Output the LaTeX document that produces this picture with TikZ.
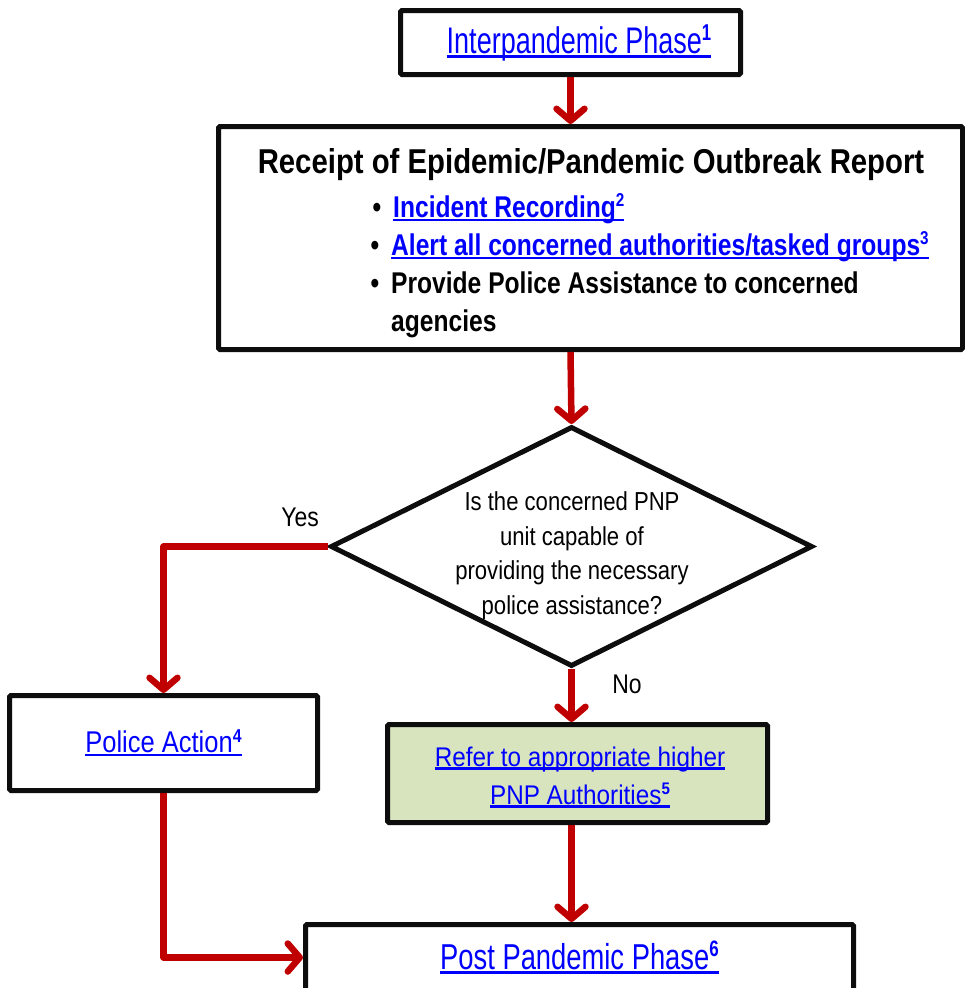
\documentclass[tikz,border=0pt]{standalone}
\usepackage{fontspec}
\setmainfont{Liberation Sans}[FakeStretch=0.78]
% condensed cuts of the same face, one per text group
\newfontfamily\fnarrowA{Liberation Sans}[FakeStretch=0.73]
\newfontfamily\fnarrowB{Liberation Sans}[FakeStretch=0.76]
\newfontfamily\fmidA{Liberation Sans}[FakeStretch=0.82]
\newfontfamily\fmidB{Liberation Sans}[FakeStretch=0.85]
\newfontfamily\fwide{Liberation Sans}[FakeStretch=0.90]
\usepackage{graphicx}
\usetikzlibrary{arrows.meta,shapes.geometric}

\definecolor{flowred}{HTML}{C00000}
\definecolor{linkblue}{HTML}{0000FF}
\definecolor{referfill}{HTML}{D7E4BD}
\definecolor{edgeblack}{HTML}{0D0D0D}

% underlined hyperlink-style text
\newsavebox\lnkbox
\newcommand\lnk[1]{\sbox\lnkbox{#1}\rlap{\color{linkblue}\rule[-0.13em]{\wd\lnkbox}{0.08em}}\usebox\lnkbox}
% footnote-style reference number
\newcommand\supnum[1]{\raisebox{0.34em}{\scalebox{0.62}{\bfseries #1}}}

\tikzset{
  box/.style={draw=edgeblack, line width=5pt, rounded corners=1.5pt, fill=white,
              inner sep=0pt, align=center},
  decision/.style={diamond, draw=edgeblack, line width=5pt, fill=white, inner sep=0pt,
              minimum width=482pt, minimum height=240pt},
  flow/.style={draw=flowred, line width=6.5pt, line join=round,
              -{Straight Barb[length=12pt,width=28pt,round]}},
  linktext/.style={text=linkblue},
  plain/.style={text=black, inner sep=0pt},
}

\begin{document}
\begin{tikzpicture}[x=1pt,y=-1pt]
\useasboundingbox (0,0) rectangle (965,988);

% boxes
\node[box, minimum width=340pt, minimum height=64pt] (inter) at (570.5,42.5) {};
\node[plain, linktext, font={\fnarrowA\fontsize{37}{40}\selectfont}] (intertext) at (579,43)
      {\lnk{Interpandemic Phase\supnum{1}}};

\node[box, minimum width=744pt, minimum height=223pt] (report) at (590.5,238) {};
\node[plain, anchor=base, font={\fmidB\bfseries\fontsize{34.5}{40}\selectfont}] (title) at (591,173)
      {Receipt of Epidemic/Pandemic Outbreak Report};
\node[plain, anchor=base west, linktext, font={\fmidA\bfseries\fontsize{30}{38}\selectfont}] (item1) at (393,217)
      {\llap{\color{black}\textbullet\hspace{12pt}}\lnk{Incident Recording\supnum{2}}};
\node[plain, anchor=base west, linktext, font={\fmidA\bfseries\fontsize{30}{38}\selectfont}] (item2) at (391,255)
      {\llap{\color{black}\textbullet\hspace{12pt}}\lnk{Alert all concerned authorities/tasked groups\supnum{3}}};
\node[plain, anchor=base west, font={\fmidA\bfseries\fontsize{30}{38}\selectfont}] (item3) at (391,293)
      {\llap{\textbullet\hspace{12pt}}Provide Police Assistance to concerned};
\node[plain, anchor=base west, font={\fmidA\bfseries\fontsize{30}{38}\selectfont}] (item3b) at (391,331)
      {agencies};

\node[decision] (dec) at (571.5,546.5) {};
\node[plain, align=center, font={\fmidB\fontsize{26}{34.5}\selectfont}] (question) at (572,556)
      {Is the concerned PNP\\unit capable of\\providing the necessary\\police assistance?};

\node[box, minimum width=308pt, minimum height=95pt, linktext,
      font={\fmidB\fontsize{30}{36}\selectfont}] (police) at (163.5,743)
      {\lnk{Police Action\supnum{4}}};

\node[box, fill=referfill, minimum width=380pt, minimum height=98pt] (refer) at (577.5,773.5) {};
\node[plain, align=center, linktext, font={\fwide\fontsize{27}{38}\selectfont}] (refertext) at (580,777)
      {\lnk{Refer to appropriate higher}\\\lnk{PNP Authorities\supnum{5}}};

\node[box, minimum width=548pt, minimum height=66pt, linktext,
      font={\fnarrowB\fontsize{36}{40}\selectfont}] (post) at (579.5,957.5)
      {\lnk{Post Pandemic Phase\supnum{6}}};

% branch labels
\node[plain, font={\fmidB\fontsize{27}{30}\selectfont}] (yes) at (300,517) {Yes};
\node[plain, font={\fmidB\fontsize{27}{30}\selectfont}] (no) at (627,684) {No};

% connectors
\draw[flow] (inter.south) -- (inter.south |- report.north);
\draw[flow] (inter.south |- report.south) -- (dec.north);
\draw[flow] (dec.west) -| (police.north);
\draw[flow] (dec.south) -- (dec.south |- refer.north);
\draw[flow] (dec.south |- refer.south) -- (dec.south |- post.north);
\draw[flow] (police.south) |- (post.west);
\end{tikzpicture}
\end{document}
